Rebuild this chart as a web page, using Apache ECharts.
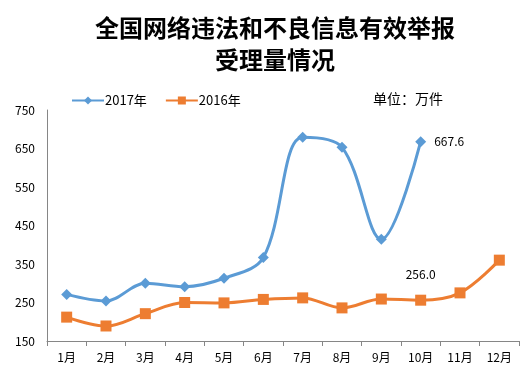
<!DOCTYPE html>
<html><head><meta charset="utf-8">
<script src="https://cdn.jsdelivr.net/npm/echarts@6/dist/echarts.min.js"></script>
<style>html,body{margin:0;padding:0;background:#fff}#c{width:532px;height:374px}</style>
</head><body><div id="c"></div>
<script>
var categories = ['1月','2月','3月','4月','5月','6月','7月','8月','9月','10月','11月','12月'];
var data2017 = [271, 254, 300, 291, 313, 367, 679, 653, 414, 667.6, null, null];
var data2016 = [212, 189, 221, 250, 249, 258, 262, 236, 259, 256.0, 275, 360];
var yTicks = {min: 150, max: 750, interval: 100};

var chart = echarts.init(document.getElementById('c'));
var font = "'Noto Sans CJK SC', 'Noto Sans', sans-serif";
chart.setOption({
  animation: false,
  textStyle: {fontFamily: font},
  title: [
    {text: '全国网络违法和不良信息有效举报\n受理量情况', left: 270, top: 7, textAlign: 'center',
     textStyle: {fontSize: 24, fontWeight: 'bold', color: '#000', lineHeight: 32, fontFamily: font}},
    {text: '单位：万件', left: 368, top: 87, textStyle: {fontSize: 14, fontWeight: 'normal', color: '#000', fontFamily: font}}
  ],
  legend: {
    left: 66, top: 89, itemWidth: 32, itemHeight: 10, itemGap: 18,
    textStyle: {fontSize: 13, color: '#000', fontFamily: font, padding: [0,0,0,-4]},
    data: ['2017年', '2016年']
  },
  grid: {left: 47, right: 13, top: 110, bottom: 33, containLabel: false},
  xAxis: {
    type: 'category', data: categories, boundaryGap: true,
    axisLine: {lineStyle: {color: '#868686', width: 1}},
    axisTick: {show: true, length: 5, lineStyle: {color: '#868686'}},
    axisLabel: {color: '#000', fontSize: 12, margin: 10}
  },
  yAxis: {
    type: 'value', min: yTicks.min, max: yTicks.max, interval: yTicks.interval,
    axisLine: {show: true, lineStyle: {color: '#868686'}},
    axisTick: {show: false},
    splitLine: {show: false},
    axisLabel: {color: '#000', fontSize: 12, margin: 12}
  },
  series: [
    {name: '2017年', type: 'line', data: data2017, smooth: 0.35, symbol: 'diamond', symbolSize: 11,
     lineStyle: {color: '#5B9BD5', width: 3}, itemStyle: {color: '#5B9BD5'},
     label: {show: true, position: 'right', distance: 8, fontSize: 12, color: '#000',
       formatter: function(p){ return p.dataIndex === 9 ? p.value.toFixed(1) : ''; }}},
    {name: '2016年', type: 'line', data: data2016, smooth: 0.35, symbol: 'rect', symbolSize: 11,
     lineStyle: {color: '#ED7D31', width: 3}, itemStyle: {color: '#ED7D31'},
     label: {show: true, position: 'top', distance: 14, fontSize: 12, color: '#000',
       formatter: function(p){ return p.dataIndex === 9 ? p.value.toFixed(1) : ''; }}}
  ]
});
</script></body></html>
